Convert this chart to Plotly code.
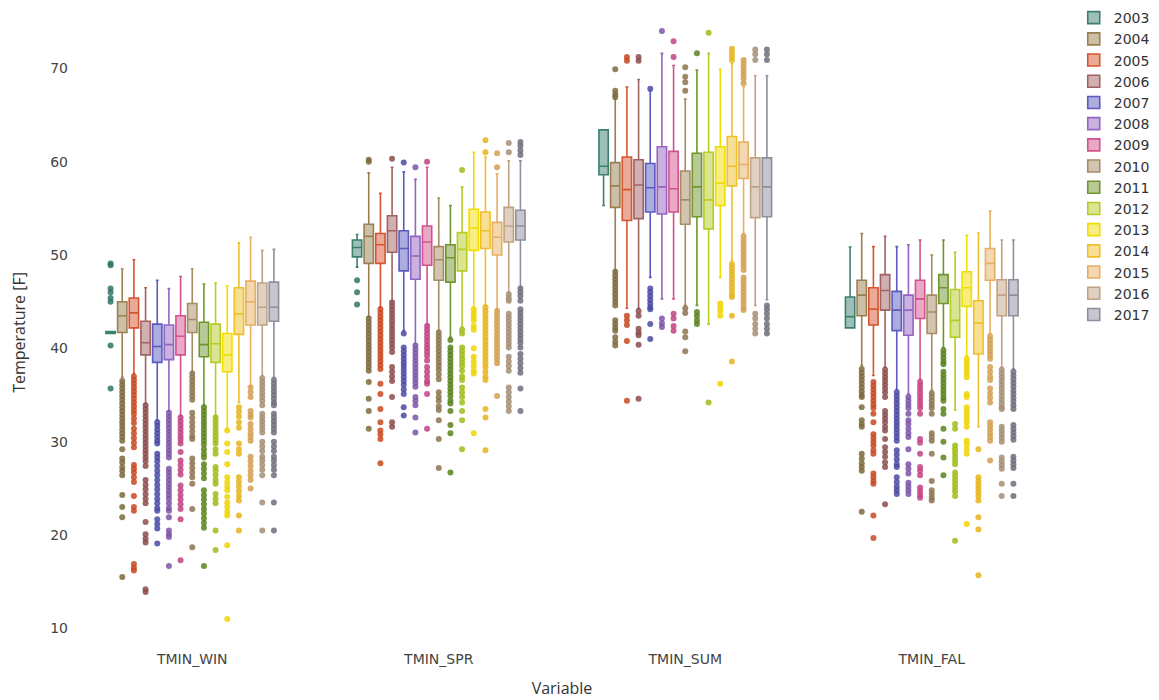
import plotly.graph_objects as go

categories = ["TMIN_WIN", "TMIN_SPR", "TMIN_SUM", "TMIN_FAL"]
years = [2003, 2004, 2005, 2006, 2007, 2008, 2009, 2010, 2011, 2012, 2013, 2014, 2015, 2016, 2017]

line_colors = ["#3d7f6f", "#9a7f50", "#d65530", "#a26262", "#5a5ac0", "#9464c2", "#d2528e",
               "#a68c62", "#6f962c", "#b6cc26", "#f0de00", "#f0c02a", "#e6b062", "#c0a284", "#8e8e9e"]
marker_colors = ["#2f7566", "#7d6a3c", "#c8481e", "#8c4c4c", "#4a4aa6", "#7c54a8", "#c24282",
                 "#8c7450", "#5a821c", "#a0bc18", "#f0d400", "#e8b41c", "#d4a050", "#a48e74", "#6e6e7c"]

# per year: [WIN, SPR, SUM, FAL]
lower = [[41.6, 48.7, 55.3, 42.2], [36.9, 43.4, 48.4, 38.2], [37.3, 44.4, 44.3, 37.1],
         [34.1, 45.1, 44.3, 38.0], [32.3, 41.9, 47.6, 35.6], [33.3, 40.5, 45.3, 35.1],
         [32.8, 42.6, 45.3, 36.7], [37.5, 41.9, 44.6, 35.5], [33.9, 41.2, 44.6, 40.1],
         [32.8, 42.3, 42.6, 33.4], [31.2, 44.4, 47.6, 39.2], [34.2, 44.6, 49.4, 31.6],
         [36.0, 44.2, 52.3, 41.6], [37.1, 46.0, 44.6, 38.0], [36.9, 46.6, 45.2, 37.8]]
q1 = [[41.6, 49.8, 58.6, 42.2], [41.7, 49.1, 55.1, 43.5], [42.2, 49.1, 53.7, 42.5],
      [39.3, 50.3, 53.9, 44.1], [38.5, 48.3, 54.6, 41.9], [38.8, 47.4, 54.4, 41.4],
      [39.3, 48.9, 54.6, 43.2], [41.7, 47.3, 53.3, 41.6], [39.1, 47.1, 54.1, 44.8],
      [38.5, 48.3, 52.8, 41.2], [37.5, 50.5, 55.3, 44.5], [41.5, 50.7, 57.4, 39.4],
      [42.5, 50.0, 58.2, 47.3], [42.5, 51.4, 54.0, 43.5], [42.9, 51.6, 54.1, 43.5]]
median = [[41.7, 50.8, 59.5, 43.4], [43.5, 52.0, 57.4, 45.7], [43.8, 51.1, 57.0, 44.2],
          [40.6, 52.6, 57.5, 46.2], [40.2, 50.7, 57.2, 44.1], [40.4, 49.9, 57.3, 44.1],
          [41.3, 51.4, 57.1, 45.3], [43.1, 49.5, 55.9, 43.9], [40.4, 49.7, 57.3, 46.5],
          [40.5, 50.6, 55.9, 43.0], [39.3, 52.9, 57.7, 46.5], [43.7, 52.6, 59.5, 42.7],
          [45.0, 51.9, 59.7, 49.1], [44.4, 53.1, 57.3, 45.7], [44.4, 53.1, 57.3, 45.7]]
q3 = [[41.8, 51.6, 63.4, 45.5], [45.0, 53.3, 59.9, 47.3], [45.4, 52.3, 60.5, 46.5],
      [42.9, 54.2, 60.2, 47.9], [42.6, 52.6, 59.8, 46.1], [42.5, 52.0, 61.6, 45.7],
      [43.5, 53.1, 61.1, 47.3], [44.8, 50.9, 59.0, 45.7], [42.8, 51.1, 60.9, 47.9],
      [42.6, 52.4, 61.0, 46.3], [41.6, 54.9, 61.6, 48.2], [46.5, 54.6, 62.7, 45.1],
      [47.2, 53.5, 62.1, 50.7], [47.0, 55.1, 60.4, 47.35], [47.1, 54.8, 60.4, 47.35]]
upper = [[41.8, 52.2, 63.4, 50.85], [48.5, 58.8, 66.7, 52.3], [49.5, 56.6, 68.0, 50.9],
         [46.5, 59.4, 68.8, 52.0], [47.3, 58.9, 67.6, 50.9], [46.4, 58.1, 71.6, 51.1],
         [47.7, 59.4, 70.3, 51.6], [48.5, 56.1, 66.7, 50.0], [46.9, 55.3, 69.8, 51.6],
         [47.0, 57.3, 71.6, 50.3], [46.7, 61.0, 69.9, 52.1], [51.3, 60.5, 70.5, 52.35],
         [51.9, 58.7, 68.0, 54.7], [50.5, 60.1, 69.2, 51.6], [50.6, 60.1, 69.2, 51.6]]

outliers_win = [
    [48.9, 49.1, 46.4, 46.0, 45.4, 45.0, 40.3, 35.7],
    [36.5, 36.1, 35.7, 35.3, 34.9, 34.5, 34.1, 33.7, 33.3, 32.9, 32.5, 32.1, 31.7, 31.3, 30.9, 30.5, 30.1, 29.2, 28.2, 27.8, 27.3, 26.9, 26.4, 24.3, 23.0, 21.9, 15.5],
    [37.0, 36.6, 36.2, 35.8, 35.4, 35.0, 34.6, 34.2, 33.8, 33.4, 33.0, 32.5, 32.0, 31.4, 30.9, 30.4, 29.9, 29.4, 27.5, 27.1, 26.7, 26.2, 25.7, 24.2, 23.0, 22.6, 16.9, 16.5, 16.2],
    [33.9, 33.5, 33.1, 32.7, 32.3, 31.9, 31.5, 31.1, 30.7, 30.3, 29.9, 29.5, 29.1, 28.7, 28.3, 27.9, 27.4, 25.9, 25.4, 24.9, 24.4, 23.9, 23.4, 21.4, 20.1, 19.6, 19.2, 14.2, 13.9],
    [32.1, 31.7, 31.3, 30.9, 30.5, 30.1, 29.8, 28.7, 28.3, 27.9, 27.4, 26.9, 26.4, 25.9, 25.4, 24.9, 24.4, 23.9, 23.4, 22.9, 22.6, 21.7, 21.2, 20.7, 19.1],
    [33.1, 32.7, 32.3, 31.9, 31.5, 31.1, 30.7, 30.3, 29.9, 29.5, 29.1, 28.7, 28.3, 27.1, 26.7, 26.3, 25.9, 25.5, 25.1, 24.7, 24.3, 23.9, 23.4, 22.9, 22.6, 21.9, 20.5, 20.1, 19.8, 16.7],
    [32.6, 32.2, 31.8, 31.4, 31.0, 30.6, 30.2, 29.8, 28.9, 28.0, 27.5, 27.0, 26.5, 25.3, 24.8, 24.3, 23.8, 23.3, 22.8, 21.7, 17.3],
    [37.3, 36.9, 36.5, 36.1, 35.7, 35.3, 34.9, 34.5, 33.1, 32.6, 32.1, 31.6, 31.1, 30.6, 30.3, 28.2, 27.7, 27.2, 26.7, 26.2, 25.5, 22.8, 18.7],
    [33.7, 33.3, 32.9, 32.5, 32.1, 31.7, 31.3, 30.9, 30.5, 30.1, 29.7, 29.2, 28.7, 28.3, 27.6, 27.1, 26.6, 26.1, 24.8, 24.3, 23.8, 23.3, 22.8, 22.3, 21.8, 21.3, 20.8, 16.7],
    [32.6, 32.2, 31.8, 31.4, 31.0, 30.6, 30.2, 29.8, 29.2, 28.7, 27.3, 26.9, 26.4, 25.9, 25.5, 24.4, 23.9, 23.4, 20.5, 18.4],
    [31.2, 29.8, 28.9, 27.6, 26.2, 25.7, 25.2, 24.8, 24.1, 23.5, 23.0, 22.5, 22.1, 18.9, 11.0],
    [33.7, 33.2, 32.7, 32.1, 31.5, 29.8, 29.2, 28.7, 26.2, 25.7, 25.2, 24.7, 24.2, 23.7, 22.1, 20.5],
    [35.8, 35.3, 34.8, 33.3, 32.9, 32.6, 31.9, 31.4, 30.9, 30.5, 30.1, 28.4, 27.9, 27.4, 26.9, 26.4, 25.9, 25.0],
    [36.8, 36.4, 36.0, 35.6, 35.2, 34.8, 34.4, 33.9, 33.0, 32.6, 32.2, 31.8, 31.4, 31.0, 30.0, 29.5, 29.0, 28.4, 28.0, 27.5, 27.0, 26.4, 23.5, 20.5],
    [36.6, 36.2, 35.8, 35.4, 35.0, 34.6, 34.2, 33.9, 33.0, 32.6, 32.2, 31.8, 31.4, 31.0, 30.0, 29.5, 29.0, 28.4, 28.0, 27.5, 27.0, 26.4, 23.5, 20.5],
]
outliers_spr = [
    [47.3, 46.0, 44.7],
    [60.0, 60.2, 43.2, 42.8, 42.4, 42.0, 41.6, 41.2, 40.8, 40.4, 40.0, 39.6, 39.2, 38.8, 38.4, 38.0, 37.6, 36.4, 34.6, 33.3, 31.4],
    [44.2, 43.8, 43.4, 43.0, 42.6, 42.2, 41.8, 41.4, 41.0, 40.6, 40.2, 39.8, 39.4, 39.0, 38.6, 38.2, 37.8, 36.2, 35.1, 33.5, 32.1, 31.2, 30.8, 30.3, 27.7],
    [60.3, 44.9, 44.5, 44.1, 43.7, 43.3, 42.9, 42.5, 42.1, 41.7, 41.3, 40.9, 40.5, 40.1, 39.6, 38.0, 37.5, 37.0, 36.5, 34.8, 32.1, 31.6],
    [59.9, 41.6, 40.1, 39.7, 39.3, 38.9, 38.5, 38.1, 37.7, 37.3, 36.9, 36.5, 36.1, 35.6, 35.1, 33.7, 32.8],
    [59.4, 40.3, 39.9, 39.5, 39.1, 38.7, 38.3, 37.9, 37.5, 37.1, 36.7, 36.3, 35.9, 34.8, 34.4, 33.9, 32.6, 31.0],
    [60.0, 42.4, 42.0, 41.6, 41.2, 40.8, 40.4, 40.0, 39.6, 39.2, 38.7, 38.0, 37.5, 37.0, 36.5, 36.2, 35.1, 31.4],
    [41.7, 41.3, 40.9, 40.5, 40.1, 39.7, 39.3, 38.9, 38.5, 38.1, 37.7, 37.2, 36.7, 35.3, 34.8, 34.4, 33.8, 33.4, 32.3, 30.3, 27.2],
    [40.9, 40.1, 39.7, 39.3, 38.9, 38.5, 38.1, 37.7, 37.3, 36.9, 36.5, 36.1, 35.7, 35.3, 34.9, 34.4, 34.1, 33.3, 31.8, 30.9, 26.7],
    [59.1, 42.0, 41.6, 40.1, 39.7, 39.3, 38.9, 38.5, 38.1, 37.6, 37.0, 36.6, 35.8, 35.3, 34.8, 34.2, 33.3, 32.3, 29.2],
    [44.2, 43.8, 43.4, 43.0, 42.4, 42.0, 40.0, 39.1, 38.6, 38.1, 37.6, 37.3, 30.9],
    [62.3, 61.0, 44.4, 44.0, 43.6, 43.2, 42.8, 42.4, 42.0, 41.6, 41.2, 40.8, 40.4, 40.0, 39.6, 39.2, 38.8, 38.4, 38.0, 37.5, 37.0, 36.6, 33.5, 32.6, 29.1],
    [60.9, 59.4, 44.0, 43.6, 43.2, 42.8, 42.4, 42.0, 41.6, 41.2, 40.8, 40.4, 40.0, 39.6, 39.2, 38.8, 38.4, 34.9],
    [62.0, 61.0, 45.8, 45.4, 45.1, 43.7, 43.3, 42.9, 42.5, 42.1, 41.7, 41.3, 40.9, 40.5, 40.1, 39.1, 38.6, 38.1, 37.6, 35.8, 35.3, 34.8, 34.3, 33.8, 33.3],
    [62.1, 61.7, 61.2, 60.7, 46.4, 46.0, 45.6, 45.1, 44.2, 43.8, 43.4, 43.0, 42.6, 42.2, 41.8, 41.4, 41.0, 40.6, 40.1, 39.4, 38.9, 38.4, 37.9, 37.4, 35.7, 33.3],
]
outliers_sum = [
    [],
    [69.9, 67.6, 67.2, 66.9, 48.2, 47.8, 47.4, 47.0, 46.6, 46.2, 45.8, 45.4, 45.0, 44.6, 43.0, 42.6, 42.2, 41.9, 41.2, 40.7, 40.3],
    [71.2, 70.8, 43.5, 43.0, 42.5, 40.8, 34.4],
    [71.2, 70.8, 44.0, 43.5, 42.1, 41.7, 41.4, 40.4, 34.6],
    [67.8, 46.4, 46.0, 45.6, 45.2, 44.8, 44.4, 44.2, 42.6, 41.0],
    [74.0, 43.2, 42.7, 42.3],
    [72.9, 71.2, 43.7, 43.2, 42.4, 41.9],
    [70.1, 69.1, 68.5, 67.6, 44.3, 43.8, 41.8, 41.2, 39.7],
    [71.6, 43.9, 43.5, 43.0, 42.6],
    [73.8, 34.2],
    [44.8, 44.4, 44.0, 43.5, 36.2],
    [72.1, 71.7, 71.3, 70.9, 49.0, 48.6, 48.2, 47.8, 47.4, 47.0, 46.6, 46.2, 45.8, 45.5, 43.5, 38.6],
    [70.9, 70.5, 70.1, 69.7, 69.3, 68.9, 68.4, 52.0, 51.6, 51.2, 50.8, 50.4, 50.0, 49.6, 49.2, 48.8, 48.4, 47.6, 47.2, 46.8, 46.4, 46.0, 45.6, 45.2, 44.8, 44.4, 44.1],
    [72.0, 71.5, 70.9, 43.7, 43.2, 42.6, 42.1, 41.6],
    [72.0, 71.5, 70.9, 44.6, 44.2, 43.7, 43.2, 42.6, 42.1, 41.6],
]
outliers_fal = [
    [],
    [37.8, 37.4, 37.0, 36.6, 36.2, 35.8, 35.4, 35.0, 34.8, 33.7, 32.3, 31.9, 31.6, 28.7, 28.2, 27.7, 27.3, 26.9, 22.5],
    [36.4, 36.0, 35.6, 35.2, 34.8, 34.4, 34.0, 33.6, 33.0, 32.1, 30.8, 30.4, 30.0, 29.6, 29.1, 28.7, 26.6, 26.2, 25.8, 25.5, 22.1, 19.7],
    [37.7, 37.3, 36.9, 36.5, 36.1, 35.7, 35.3, 34.8, 33.3, 32.9, 32.5, 32.1, 31.6, 31.2, 30.3, 29.4, 28.9, 28.4, 27.8, 27.3, 23.3],
    [35.3, 34.9, 34.5, 34.1, 33.7, 33.3, 32.9, 32.5, 32.1, 31.7, 31.3, 30.9, 30.5, 30.1, 29.1, 28.6, 28.1, 27.6, 27.3, 26.2, 25.7, 25.2, 24.8, 24.4],
    [34.8, 34.4, 34.0, 33.6, 33.0, 32.3, 31.9, 31.4, 30.9, 30.5, 29.2, 27.6, 27.1, 26.6, 25.6, 25.2, 24.8, 24.4],
    [36.4, 36.0, 35.6, 35.2, 34.8, 34.4, 34.0, 33.6, 33.0, 30.3, 29.9, 28.7, 27.3, 26.9, 26.4, 25.1, 24.7, 24.3, 24.0],
    [35.2, 34.8, 34.4, 34.0, 33.6, 33.0, 30.9, 30.5, 30.1, 28.7, 25.8, 24.8, 24.4, 24.0, 23.7],
    [39.8, 39.4, 39.0, 38.6, 38.3, 37.5, 37.1, 36.7, 36.3, 35.9, 35.5, 35.1, 34.7, 34.4, 33.5, 33.0, 31.4, 30.0, 28.3, 26.4],
    [31.9, 31.4, 29.6, 29.2, 28.8, 28.4, 28.0, 27.6, 26.7, 26.3, 25.9, 25.5, 25.1, 24.7, 24.2, 19.4],
    [38.9, 38.5, 38.1, 37.7, 37.3, 36.9, 35.1, 34.8, 33.7, 33.3, 32.9, 32.5, 32.1, 31.6, 30.1, 29.7, 29.2, 28.7, 21.2],
    [29.2, 26.2, 25.8, 25.4, 25.0, 24.6, 24.2, 23.7, 21.9, 20.6, 15.7],
    [41.3, 40.9, 40.5, 40.1, 39.7, 39.3, 38.9, 38.0, 37.5, 37.0, 36.6, 35.7, 35.2, 34.7, 34.2, 32.1, 31.7, 31.3, 30.9, 30.5, 30.1, 28.0],
    [37.7, 37.3, 36.9, 36.5, 36.1, 35.7, 35.3, 34.9, 34.5, 34.1, 33.7, 33.5, 31.6, 31.2, 30.8, 30.4, 30.0, 28.3, 27.9, 27.5, 27.1, 25.5, 24.2],
    [37.5, 37.1, 36.7, 36.3, 35.9, 35.5, 35.1, 34.7, 34.3, 33.9, 33.5, 31.8, 31.4, 31.0, 30.6, 30.2, 28.4, 28.0, 27.6, 27.2, 25.5, 24.2],
]

y_ticks = [10, 20, 30, 40, 50, 60, 70]
BOXGAP = 0.29


def rgba(hex_color, a):
    h = hex_color.lstrip("#")
    r, g, b = int(h[0:2], 16), int(h[2:4], 16), int(h[4:6], 16)
    return f"rgba({r},{g},{b},{a})"


fig = go.Figure()
outlier_sets = [outliers_win, outliers_spr, outliers_sum, outliers_fal]

for i, yr in enumerate(years):
    fig.add_trace(go.Box(
        name=str(yr), x=categories,
        q1=q1[i], median=median[i], q3=q3[i],
        lowerfence=lower[i], upperfence=upper[i],
        boxpoints=False,
        line=dict(color=line_colors[i], width=1.6),
        fillcolor=rgba(line_colors[i], 0.5),
        whiskerwidth=0.3,
        offsetgroup=str(yr), alignmentgroup="g",
        legendgroup=str(yr),
    ))
    xs, ys = [], []
    for c, cat in enumerate(categories):
        vals = outlier_sets[c][i]
        xs += [cat] * len(vals)
        ys += vals
    fig.add_trace(go.Scatter(
        x=xs, y=ys, mode="markers",
        marker=dict(color=marker_colors[i], size=6, opacity=0.85, line=dict(width=0)),
        offsetgroup=str(yr), alignmentgroup="g",
        legendgroup=str(yr), showlegend=False, hoverinfo="y",
    ))

# page body has an 8px default margin, so the figure is sized to fit the 1159x700 window
fig.update_layout(
    width=1151, height=692,
    paper_bgcolor="white", plot_bgcolor="white",
    margin=dict(l=61, r=104, t=8, b=51, autoexpand=False),
    boxmode="group", boxgap=BOXGAP, boxgroupgap=0.2,
    scattermode="group", scattergap=BOXGAP,
    font=dict(family="DejaVu Sans", size=14, color="#444"),
    legend=dict(x=1.019, y=1.022, xanchor="left", yanchor="top", tracegroupgap=0,
                font=dict(family="DejaVu Sans", size=14, color="#333"),
                bgcolor="rgba(0,0,0,0)"),
    xaxis=dict(type="category", categoryorder="array", categoryarray=categories,
               showgrid=False, zeroline=False, showline=False, ticks="",
               title=dict(text="Variable", font=dict(family="Open Sans", size=16, color="#333"), standoff=16)),
    yaxis=dict(range=[7.8, 75.6], tickvals=y_ticks, showgrid=False, zeroline=False,
               showline=False, ticks="",
               title=dict(text="Temperature [F]", font=dict(family="Open Sans", size=16, color="#333"), standoff=22)),
)

fig.write_html("out.html")
